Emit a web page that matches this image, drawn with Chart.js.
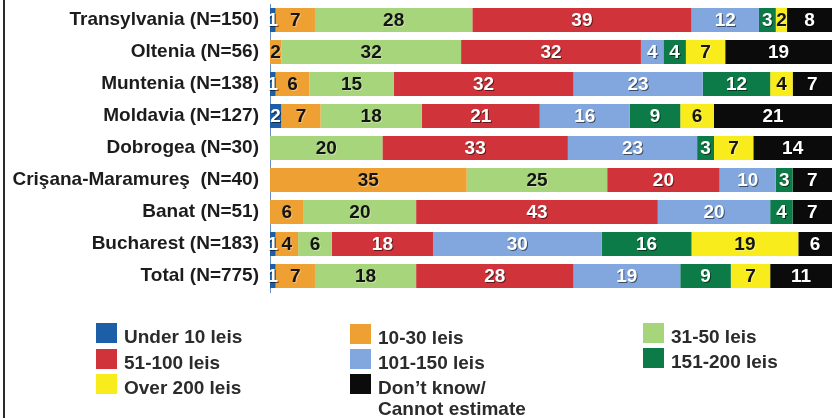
<!DOCTYPE html>
<html>
<head>
<meta charset="utf-8">
<script src="https://cdn.jsdelivr.net/npm/chart.js@4"></script>
<style>
  html, body { margin: 0; padding: 0; background: #ffffff; }
  #wrap { position: relative; width: 832px; height: 418px; overflow: hidden; }
  #frame { position: absolute; left: 3px; top: 0; width: 2px; height: 418px; background: #2a2a2a; }
  canvas { position: absolute; left: 0; top: 0; }
  .key { position: absolute; width: 21px; height: 20px; }
  .lbl { position: absolute; font: bold 19px "Liberation Sans", Arial, sans-serif; color: #2b2b2b; line-height: 20px; white-space: nowrap; }
</style>
</head>
<body>
<div id="wrap">
  <canvas id="c" width="832" height="418"></canvas>
  <div id="frame"></div>
  <div id="legend"></div>
</div>
<script>
// Regions surveyed (sample size in brackets)
const regions = [
  "Transylvania (N=150)",
  "Oltenia (N=56)",
  "Muntenia (N=138)",
  "Moldavia (N=127)",
  "Dobrogea (N=30)",
  "Crişana-Maramureş  (N=40)",
  "Banat (N=51)",
  "Bucharest (N=183)",
  "Total (N=775)"
];

// Share of respondents (%) per spending band, one value per region
const under10      = [1, 0, 1, 2, 0, 0, 0, 1, 1];
const from10to30   = [7, 2, 6, 7, 0, 35, 6, 4, 7];
const from31to50   = [28, 32, 15, 18, 20, 25, 20, 6, 18];
const from51to100  = [39, 32, 32, 21, 33, 20, 43, 18, 28];
const from101to150 = [12, 4, 23, 16, 23, 10, 20, 30, 19];
const from151to200 = [3, 4, 12, 9, 3, 3, 4, 16, 9];
const over200      = [2, 7, 4, 6, 7, 0, 0, 19, 7];
const dontKnow     = [8, 19, 7, 21, 14, 7, 7, 6, 11];

const bands = [
  { label: "Under 10 leis", data: under10, color: "#1d5fa6", text: "#ffffff" },
  { label: "10-30 leis", data: from10to30, color: "#eea132", text: "#141414" },
  { label: "31-50 leis", data: from31to50, color: "#a7d57b", text: "#141414" },
  { label: "51-100 leis", data: from51to100, color: "#d0343a", text: "#ffffff" },
  { label: "101-150 leis", data: from101to150, color: "#82a7de", text: "#ffffff" },
  { label: "151-200 leis", data: from151to200, color: "#0c7b48", text: "#ffffff" },
  { label: "Over 200 leis", data: over200, color: "#f8ec1c", text: "#141414" },
  { label: "Don\u2019t know/\nCannot estimate", data: dontKnow, color: "#0b0b0c", text: "#ffffff" }
];

// Writes each segment's value in the middle of the segment
const segmentValues = {
  id: "segmentValues",
  afterDatasetsDraw(chart) {
    const ctx = chart.ctx;
    ctx.save();
    ctx.font = 'bold 19px "Liberation Sans", Arial, sans-serif';
    ctx.textAlign = "center";
    ctx.textBaseline = "middle";
    chart.data.datasets.forEach((ds, di) => {
      const meta = chart.getDatasetMeta(di);
      meta.data.forEach((bar, i) => {
        const v = ds.data[i];
        if (!v) return;
        const x = (bar.x + bar.base) / 2;
        const y = bar.y + 1;
        const light = bands[di].text === "#ffffff";
        ctx.fillStyle = light ? "rgba(0,0,0,0.55)" : "rgba(255,255,255,0.35)";
        ctx.fillText(String(v), x + 1, y + 1);
        ctx.fillStyle = bands[di].text;
        ctx.fillText(String(v), x, y);
      });
    });
    ctx.restore();
  }
};

new Chart(document.getElementById("c"), {
  type: "bar",
  data: {
    labels: regions,
    datasets: bands.map(b => ({
      label: b.label,
      data: b.data,
      backgroundColor: b.color,
      borderWidth: 0,
      categoryPercentage: 1,
      barPercentage: 0.75
    }))
  },
  options: {
    indexAxis: "y",
    responsive: false,
    animation: false,
    layout: { padding: { top: 4, bottom: 126, left: 0, right: 0 } },
    plugins: { legend: { display: false }, tooltip: { enabled: false } },
    scales: {
      x: {
        stacked: true,
        min: 0,
        max: 100,
        display: false
      },
      y: {
        stacked: true,
        grid: { display: false },
        border: { display: true, color: "#6a8cc0", width: 1 },
        ticks: {
          padding: 3,
          color: "#1c1c1c",
          font: { family: '"Liberation Sans", Arial, sans-serif', size: 19, weight: "bold" }
        },
        afterFit(scale) {
          scale.width = 270;
          scale.paddingTop = 0;
          scale.paddingBottom = 0;
        }
      }
    }
  },
  plugins: [segmentValues]
});

// Legend laid out in three columns below the bars
const legendSlots = [
  { band: 0, x: 96,  y: 323 },
  { band: 3, x: 96,  y: 349 },
  { band: 6, x: 96,  y: 374 },
  { band: 1, x: 350, y: 324 },
  { band: 4, x: 350, y: 349 },
  { band: 7, x: 350, y: 374 },
  { band: 2, x: 643, y: 323 },
  { band: 5, x: 643, y: 348 }
];
const legend = document.getElementById("legend");
legendSlots.forEach(s => {
  const b = bands[s.band];
  const key = document.createElement("div");
  key.className = "key";
  key.style.left = s.x + "px";
  key.style.top = s.y + "px";
  key.style.background = b.color;
  legend.appendChild(key);
  b.label.split("\n").forEach((line, k) => {
    const t = document.createElement("div");
    t.className = "lbl";
    t.style.left = (s.x + 28) + "px";
    t.style.top = (s.y + 4 + k * 21) + "px";
    t.textContent = line;
    legend.appendChild(t);
  });
});
</script>
</body>
</html>
